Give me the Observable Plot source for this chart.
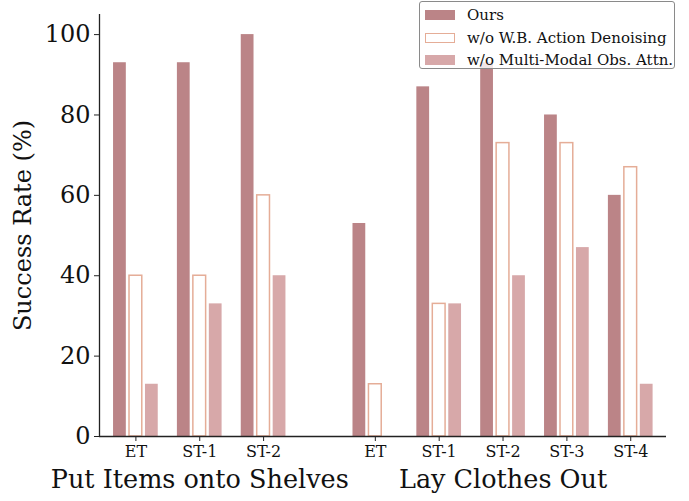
<!DOCTYPE html>
<html>
<head>
<meta charset="utf-8">
<script src="https://cdn.jsdelivr.net/npm/d3@7"></script>
<script src="https://cdn.jsdelivr.net/npm/@observablehq/plot@0.6"></script>
<style>
  html, body { margin: 0; padding: 0; background: #fff; }
  #wrap { position: relative; width: 689px; height: 501px; font-family: "DejaVu Serif", serif; }
  #legend { position: absolute; left: 419px; top: 1px; width: 256px; height: 68px;
    border: 1px solid #8a8a8a; border-radius: 3px; background: rgba(255,255,255,0.8);
    font-family: "DejaVu Serif", serif; font-size: 15px; color: #111; box-sizing: border-box; }
  .row { position: absolute; left: 5px; height: 20px; display: flex; align-items: center; }
  .sw { width: 30px; height: 10px; margin-right: 12px; box-sizing: border-box; }
</style>
</head>
<body>
<div id="wrap"><div id="legend"></div></div>
<script>
// ---- data ----
const tasks = ["Put Items onto Shelves", "Lay Clothes Out"];
const subtasks = [["ET", "ST-1", "ST-2"], ["ET", "ST-1", "ST-2", "ST-3", "ST-4"]];
const series = ["Ours", "w/o W.B. Action Denoising", "w/o Multi-Modal Obs. Attn."];
const ours = [93, 93, 100, 53, 87, 93, 80, 60];
const noWB = [40, 40, 60, 13, 33, 73, 73, 67];
const noMM = [13, 33, 40, 0, 33, 40, 47, 13];
const yTicks = [0, 20, 40, 60, 80, 100];

// ---- styling ----
const colOurs = "#bb8487";
const colWB = "#e5ad97";
const colMM = "#d7a8a9";
const font = "DejaVu Serif";
const groupGap = 1.75;
const barW = 0.2, barStep = 0.25;

// build positions from group structure
const cats = [];
let pos = 0;
tasks.forEach((t, ti) => {
  if (ti > 0) pos += groupGap - 1;
  subtasks[ti].forEach((s, si) => {
    cats.push({task: t, sub: s, x: pos});
    pos += 1;
  });
});
const rows = [];
cats.forEach((c, i) => {
  [ours[i], noWB[i], noMM[i]].forEach((v, k) => {
    rows.push({series: series[k], k, cx: c.x + (k - 1) * barStep, value: v});
  });
});
const groupCenters = tasks.map(t => {
  const xs = cats.filter(c => c.task === t).map(c => c.x);
  return {task: t, x: d3.mean(xs)};
});
const xDomain = [-0.57, pos - 1 + 0.56];

const chart = Plot.plot({
  width: 689, height: 501,
  marginLeft: 99, marginRight: 23, marginTop: 14, marginBottom: 65,
  style: {fontFamily: font, color: "#111", background: "transparent"},
  x: {type: "linear", domain: xDomain},
  y: {domain: [0, 105]},
  marks: [
    Plot.rectY(rows.filter(d => d.k === 0), {x1: d => d.cx - barW / 2, x2: d => d.cx + barW / 2, y1: 0, y2: "value", fill: colOurs}),
    Plot.rectY(rows.filter(d => d.k === 1 && d.value > 0), {x1: d => d.cx - barW / 2, x2: d => d.cx + barW / 2, y1: 0, y2: "value", fill: "white", stroke: colWB, strokeWidth: 1.5}),
    Plot.rectY(rows.filter(d => d.k === 2 && d.value > 0), {x1: d => d.cx - barW / 2, x2: d => d.cx + barW / 2, y1: 0, y2: "value", fill: colMM}),
    Plot.ruleY([0], {stroke: "#222", strokeWidth: 1.3}),
    Plot.ruleX([xDomain[0]], {stroke: "#222", strokeWidth: 1.3}),
    Plot.axisX({ticks: cats.map(c => c.x), tickFormat: (d, i) => cats[i].sub, fontSize: 16, tickSize: 5, tickPadding: 4, label: null, stroke: "#222"}),
    Plot.axisY({ticks: yTicks, fontSize: 24, tickSize: 5, tickPadding: 4, label: null, stroke: "#222"}),
    Plot.text(groupCenters, {x: "x", text: "task", frameAnchor: "bottom", dy: 51, fontSize: 25.5, fill: "#111"}),
    Plot.text(["Success Rate (%)"], {frameAnchor: "left", textAnchor: "middle", dx: -76, rotate: -90, fontSize: 24, fill: "#111"})
  ]
});
document.getElementById("wrap").prepend(chart);

// legend
const legend = document.getElementById("legend");
const swStyles = [
  `background:${colOurs}`,
  `background:#fff;border:1.5px solid ${colWB}`,
  `background:${colMM}`
];
series.forEach((s, i) => {
  const r = document.createElement("div");
  r.className = "row";
  r.style.top = (3 + i * 22.5) + "px";
  r.innerHTML = `<div class="sw" style="${swStyles[i]}"></div><span>${s}</span>`;
  legend.appendChild(r);
});
</script>
</body>
</html>
